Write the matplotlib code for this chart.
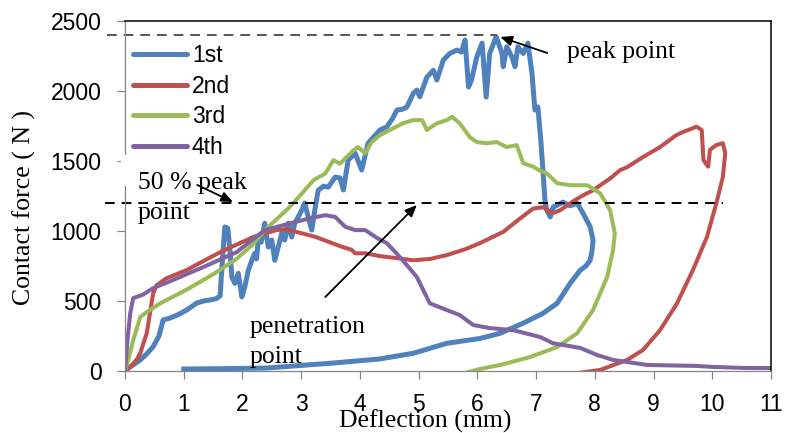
import matplotlib
matplotlib.use("Agg")
import matplotlib.pyplot as plt
from matplotlib.patches import Rectangle

plt.rcParams['lines.scale_dashes'] = False

# load-deflection loops for the four impacts
x_1st = [0.0, 0.1, 0.26, 0.37, 0.48, 0.58, 0.65, 0.77, 0.9, 1.05, 1.22, 1.35, 1.45, 1.55, 1.62,
         1.66, 1.70, 1.75, 1.79, 1.82, 1.87, 1.93, 1.99, 2.04, 2.10, 2.16, 2.21, 2.24, 2.27, 2.32,
         2.38, 2.44, 2.50, 2.55, 2.61, 2.67, 2.72, 2.78, 2.84, 2.89, 2.95, 3.01, 3.06, 3.12, 3.18,
         3.24, 3.29, 3.38, 3.46, 3.58, 3.66, 3.72, 3.80, 3.92, 4.03, 4.14, 4.25, 4.34, 4.46, 4.55,
         4.63, 4.72, 4.80, 4.91, 4.97, 5.02, 5.14, 5.25, 5.31, 5.42, 5.53, 5.65, 5.73, 5.79, 5.85,
         5.90, 5.99, 6.08, 6.15, 6.21, 6.32, 6.42, 6.44, 6.50, 6.59, 6.64, 6.69, 6.78, 6.86, 6.93,
         6.98, 7.03, 7.08, 7.12, 7.15, 7.18, 7.24, 7.29, 7.46, 7.58, 7.70, 7.80, 7.92, 7.97, 7.95,
         7.92, 7.85, 7.75, 7.58, 7.36, 7.12, 6.78, 6.39, 6.04, 5.48, 4.91, 4.34, 3.55, 2.41, 1.60,
         1.0]
y_1st = [0, 30, 77, 120, 172, 250, 363, 377, 400, 434, 484, 500, 506, 515, 535,
         800, 1028, 1020, 850, 670, 625, 697, 528, 600, 718, 790, 840, 800, 935, 920,
         1055, 885, 935, 790, 885, 985, 935, 1055, 956, 1055, 1100, 1149, 1200, 1100, 1006,
         1170, 1291, 1320, 1313, 1385, 1380, 1293, 1507, 1555, 1436, 1628, 1680, 1722, 1745, 1800,
         1865, 1870, 1887, 1985, 2008, 1960, 2100, 2150, 2080, 2222, 2270, 2294, 2280, 2366, 2030,
         2080, 2244, 2344, 1958, 2270, 2390, 2270, 2175, 2318, 2244, 2175, 2318, 2270, 2344, 2128,
         1865, 1887, 1650, 1413, 1221, 1150, 1100, 1170, 1206, 1180, 1198, 1126, 1030, 935, 850,
         790, 750, 718, 625, 483, 411, 340, 268, 230, 196, 125, 84, 55, 19, 14,
         12]

x_2nd = [0.0, 0.09, 0.2, 0.26, 0.37, 0.48, 0.54, 0.7, 1.05, 1.62, 2.18, 2.58, 2.75, 2.92,
         3.24, 3.69, 3.86, 3.92, 4.09, 4.34, 4.63, 4.91, 5.2, 5.48, 5.8, 6.04, 6.44, 6.73, 6.95,
         7.12, 7.27, 7.41, 7.58, 7.75, 7.87, 7.97, 8.14, 8.26, 8.43, 8.55, 8.82, 9.11, 9.39, 9.5,
         9.67, 9.73, 9.82, 9.85, 9.93, 9.96, 10.07, 10.18, 10.22, 10.18, 10.07, 9.91, 9.67, 9.40,
         9.11, 8.82, 8.55, 8.09, 7.65]
y_2nd = [0, 27, 80, 125, 267, 553, 612, 660, 720, 848, 956, 1006, 1013, 993,
         958, 887, 865, 840, 840, 820, 805, 790, 800, 827, 870, 912, 993, 1090, 1160,
         1170, 1126, 1148, 1198, 1243, 1270, 1291, 1341, 1375, 1435, 1456, 1529, 1600, 1686, 1708,
         1735, 1746, 1722, 1507, 1460, 1580, 1615, 1628, 1556, 1386, 1200, 958, 720, 482,
         290, 148, 77, 5, -20]

x_3rd = [0.0, 0.07, 0.14, 0.26, 0.37, 0.6, 0.77, 1.05, 1.33, 1.53, 1.90, 2.18, 2.38, 2.75,
         2.89, 3.21, 3.41, 3.55, 3.66, 3.89, 3.97, 4.09, 4.20, 4.34, 4.51, 4.73, 4.91, 5.06,
         5.14, 5.31, 5.48, 5.57, 5.70, 5.87, 5.99, 6.16, 6.33, 6.50, 6.67, 6.78, 6.95, 7.07,
         7.18, 7.36, 7.58, 7.87, 8.09, 8.26, 8.34, 8.31, 8.21, 7.97, 7.70, 7.36, 6.90, 6.39,
         6.04, 5.85]
y_3rd = [0, 100, 218, 384, 419, 482, 519, 580, 648, 697, 800, 905, 1006, 1149,
         1210, 1363, 1411, 1507, 1481, 1577, 1600, 1555, 1636, 1685, 1722, 1770, 1793, 1793,
         1722, 1770, 1793, 1817, 1770, 1672, 1636, 1627, 1636, 1600, 1614, 1485, 1460, 1430,
         1413, 1341, 1327, 1327, 1270, 1148, 983, 862, 670, 434, 268, 170, 98, 41,
         12, -10]

x_4th = [0.0, 0.05, 0.09, 0.14, 0.31, 0.48, 0.77, 1.33, 1.90, 2.38, 2.89, 3.10, 3.41, 3.58,
         3.75, 3.92, 4.09, 4.29, 4.46, 4.6, 4.73, 4.97, 5.19, 5.48, 5.70, 5.93, 6.21, 6.61,
         7.07, 7.29, 7.75, 8.04, 8.31, 8.89, 9.74, 10.01, 10.59, 11.03]
y_4th = [0, 250, 412, 519, 545, 591, 640, 741, 848, 1006, 1063, 1085, 1113, 1100,
         1030, 1006, 1006, 950, 912, 850, 790, 670, 482, 434, 398, 327, 305, 290,
         241, 196, 163, 112, 77, 41, 34, 27, 19, 19]

peak = 2400
half_peak = 1200

fig = plt.figure(figsize=(7.87, 4.33), dpi=100)
ax = fig.add_axes([0.1588, 0.1439, 0.8209, 0.8069])

ax.plot(x_1st, y_1st, color='#4F81BD', lw=3.6, label='1st', solid_joinstyle='round')
ax.plot(x_2nd, y_2nd, color='#C0504D', lw=2.9, label='2nd', solid_joinstyle='round')
ax.plot(x_3rd, y_3rd, color='#9BBB59', lw=2.9, label='3rd', solid_joinstyle='round')
ax.plot(x_4th, y_4th, color='#8064A2', lw=2.9, label='4th', solid_joinstyle='round')

# reference levels
ax.plot([-0.31, 6.33], [peak, peak], color='#555555', lw=1.4, dashes=(7, 5), clip_on=False)
ax.plot([-0.34, 10.18], [half_peak, half_peak], color='black', lw=1.4, dashes=(7, 5), clip_on=False)

ax.set_xlim(0, 11)
ax.set_ylim(0, 2500)
ax.set_xticks(range(0, 12))
ax.set_yticks([0, 500, 1000, 1500, 2000, 2500])

for s in ['left', 'bottom']:
    ax.spines[s].set_color('#868686')
    ax.spines[s].set_linewidth(0.9)
for s in ['top', 'right']:
    ax.spines[s].set_color('black')
    ax.spines[s].set_linewidth(1.1)

ax.tick_params(axis='both', direction='out', length=5.8, width=0.9, color='#868686',
               labelsize=16.5)
ax.tick_params(axis='y', pad=11)
ax.tick_params(axis='x', pad=10)
for lab in ax.get_xticklabels() + ax.get_yticklabels():
    lab.set_fontfamily('Liberation Sans')

serif = 'Liberation Serif'
ax.set_xlabel('Deflection (mm)', fontsize=18.5, family=serif)
ax.xaxis.set_label_coords(0.464, -0.112)
ax.set_ylabel('Contact force ( N )', fontsize=18.5, family=serif)
ax.yaxis.set_label_coords(-0.138, 0.468)

leg = ax.legend(loc='upper left', bbox_to_anchor=(0.012, 0.935), frameon=False,
                borderpad=0, borderaxespad=0, handlelength=2.36, handletextpad=0.22,
                labelspacing=0.33, prop={'family': 'Liberation Sans', 'size': 16.5})
for h in leg.get_lines():
    h.set_linewidth(3.6)
    h.set_solid_capstyle('round')

# white text box over the axis line
ax.add_patch(Rectangle((-0.06, 1322), 0.2, 220, facecolor='white', edgecolor='none',
                       clip_on=False, zorder=2.6))

ax.text(0.22, 1343, '50 % peak', fontsize=18.5, family=serif, va='center', ha='left', zorder=3)
ax.text(0.22, 1128, 'point', fontsize=18.5, family=serif, va='center', ha='left', zorder=3)
ax.text(7.53, 2280, 'peak point', fontsize=18.5, family=serif, va='center', ha='left')
ax.text(2.13, 312, 'penetration', fontsize=18.5, family=serif, va='center', ha='left')
ax.text(2.13, 98, 'point', fontsize=18.5, family=serif, va='center', ha='left')

arrow = dict(arrowstyle='-|>,head_length=0.7,head_width=0.3', color='black', lw=1.3,
             shrinkA=0, shrinkB=0)
ax.annotate('', xy=(6.39, 2388), xytext=(7.19, 2273), arrowprops=arrow, annotation_clip=False)
ax.annotate('', xy=(1.84, 1207), xytext=(1.23, 1329), arrowprops=arrow, annotation_clip=False)
ax.annotate('', xy=(4.97, 1186), xytext=(3.41, 527), arrowprops=arrow, annotation_clip=False)

fig.savefig('out.png', dpi=100)
